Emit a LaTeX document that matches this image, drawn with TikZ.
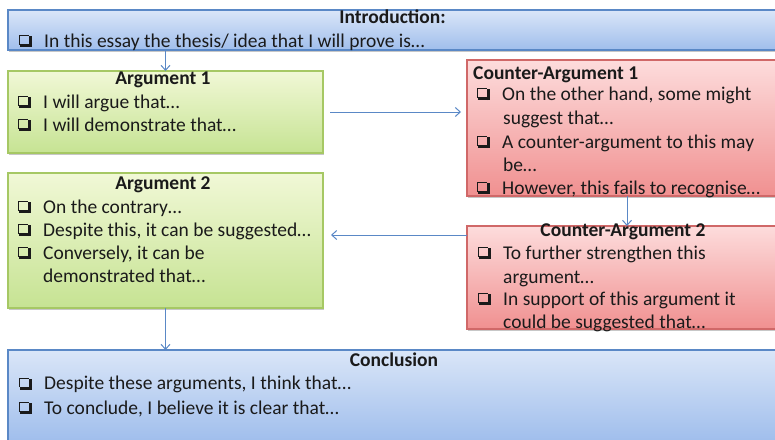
\documentclass[tikz,border=0pt]{standalone}
\usepackage{fontspec}
\setmainfont{Carlito}
\usetikzlibrary{arrows.meta,shadows}
\definecolor{bluebd}{HTML}{5A88C6}
\definecolor{bluetop}{HTML}{DAE6F8}
\definecolor{bluebot}{HTML}{A0BEEC}
\definecolor{grnbd}{HTML}{A6C864}
\definecolor{grntop}{HTML}{F1F8D6}
\definecolor{grnbot}{HTML}{C6E393}
\definecolor{redbd}{HTML}{D06868}
\definecolor{redtop}{HTML}{FDDCDC}
\definecolor{redbot}{HTML}{F09090}
\definecolor{arrc}{HTML}{5A88C6}
\definecolor{txtc}{HTML}{1A1A1A}
\newcommand\chkbox{{\setlength\unitlength{1pt}\begin{picture}(13,12)
  \put(0,10.8){\rule{10pt}{1.2pt}}
  \put(0,2.5){\rule{1.2pt}{9.5pt}}
  \put(1,0){\rule{11.5pt}{3pt}}
  \put(9.5,0){\rule{3pt}{11pt}}
\end{picture}}}
\newcommand\bx{\makebox[25pt][l]{\chkbox}}
\begin{document}
\begin{tikzpicture}[x=1pt,y=-1pt,
  box/.style={rectangle,inner sep=0pt,outer sep=0pt,line width=1.3pt,
    drop shadow={shadow xshift=1.2pt,shadow yshift=-1.5pt,fill=black,opacity=.22}},
  bluebox/.style={box,draw=bluebd,top color=bluetop,bottom color=bluebot},
  grnbox/.style={box,draw=grnbd,top color=grntop,bottom color=grnbot},
  redbox/.style={box,draw=redbd,top color=redtop,bottom color=redbot},
  ttl/.style={inner sep=0pt,anchor=base,text=txtc,font=\fontsize{19.5}{23}\selectfont\bfseries},
  ln/.style={inner sep=0pt,anchor=base west,text=txtc,font=\fontsize{19.5}{23}\selectfont},
  arr/.style={draw=arrc,line width=1pt,-{Straight Barb[length=5pt,width=9pt,line width=1pt]}}
]
\useasboundingbox (0,0) rectangle (775,439);
% boxes
\node[bluebox,minimum width=769pt,minimum height=40pt] (intro) at (392.5,30) {};
\node[grnbox,minimum width=315pt,minimum height=82pt] (arg1) at (165.5,112) {};
\node[redbox,minimum width=310pt,minimum height=136pt] (ca1) at (622,128) {};
\node[grnbox,minimum width=315pt,minimum height=135pt] (arg2) at (165.5,240.5) {};
\node[redbox,minimum width=310pt,minimum height=103pt] (ca2) at (622,277.5) {};
\node[bluebox,minimum width=769pt,minimum height=91pt] (concl) at (392.5,395.5) {};
% introduction
\node[ttl] (introt) at (392.5,23) {Introduction:};
\node[ln] (intro1) at (19,47) {\bx In this essay the thesis/ idea that I will prove is…};
% argument 1
\node[ttl] (arg1t) at (163,84) {Argument 1};
\node[ln] (arg1a) at (18,108) {\bx I will argue that…};
\node[ln] (arg1b) at (18,131) {\bx I will demonstrate that…};
% counter-argument 1
\node[ttl,anchor=base west] (ca1t) at (473,79) {Counter-Argument 1};
\node[ln] (ca1a) at (477,100) {\bx On the other hand, some might};
\node[ln] (ca1b) at (503,124) {suggest that…};
\node[ln] (ca1c) at (477,148) {\bx A counter-argument to this may};
\node[ln] (ca1d) at (503,171) {be…};
\node[ln] (ca1e) at (477,194) {\bx However, this fails to recognise…};
% argument 2
\node[ttl] (arg2t) at (163,189) {Argument 2};
\node[ln] (arg2a) at (18,213) {\bx On the contrary…};
\node[ln] (arg2b) at (18,236) {\bx Despite this, it can be suggested…};
\node[ln] (arg2c) at (18,259) {\bx Conversely, it can be};
\node[ln] (arg2d) at (43,282) {demonstrated that…};
% counter-argument 2
\node[ttl] (ca2t) at (623,236) {Counter-Argument 2};
\node[ln] (ca2a) at (478,259) {\bx To further strengthen this};
\node[ln] (ca2b) at (503,283) {argument…};
\node[ln] (ca2c) at (478,305) {\bx In support of this argument it};
\node[ln] (ca2d) at (503,328) {could be suggested that…};
% conclusion
\node[ttl] (conclt) at (394,366.5) {Conclusion};
\node[ln] (concla) at (19,389.5) {\bx Despite these arguments, I think that…};
\node[ln] (conclb) at (19,414) {\bx To conclude, I believe it is clear that…};
% connectors
\draw[arr] (arg1.north |- intro.south) -- (arg1.north);
\draw[arr] ([xshift=7pt]arg1.east) -- ([xshift=-6pt]ca1.west |- arg1.east);
\draw[arr] ([xshift=5pt]ca1.south) -- ([xshift=5pt]ca2.north);
\path (ca2.north west) ++(0,9) coordinate (c2l);
\draw[arr] (c2l) -- ([xshift=8pt]arg2.east |- c2l);
\draw[arr] (arg2.south) -- (arg2.south |- concl.north);
\end{tikzpicture}
\end{document}
